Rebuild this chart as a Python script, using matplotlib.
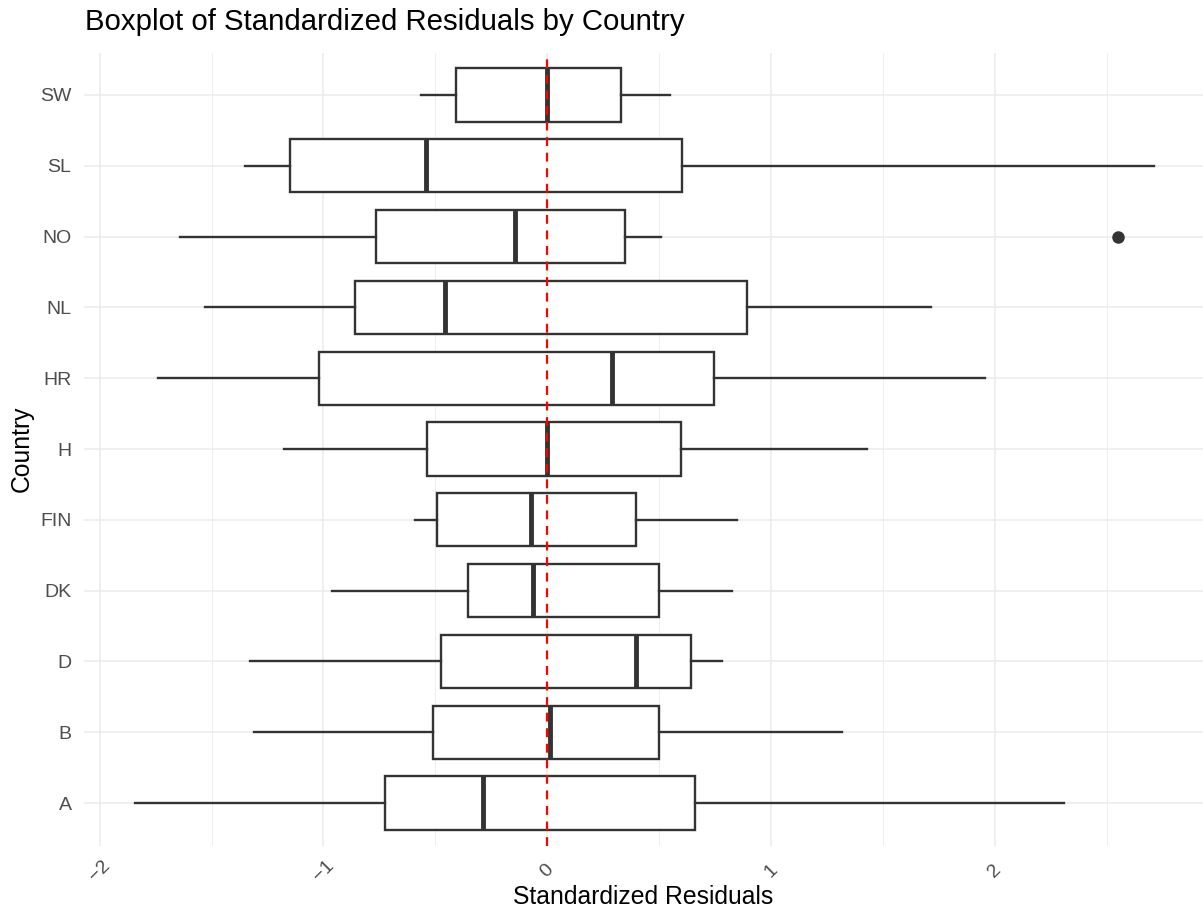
import numpy as np
import matplotlib
matplotlib.use("Agg")
import matplotlib.pyplot as plt

plt.rcParams['font.family'] = ['Liberation Sans', 'DejaVu Sans']

# значения (снизу вверх)
countries = ["A", "B", "D", "DK", "FIN", "H", "HR", "NL", "NO", "SL", "SW"]
whislo = [-1.84, -1.31, -1.33, -0.96, -0.59, -1.175, -1.74, -1.53, -1.64, -1.35, -0.563]
q1 = [-0.727, -0.512, -0.477, -0.352, -0.493, -0.538, -1.02, -0.857, -0.766, -1.149, -0.408]
med = [-0.286, 0.013, 0.396, -0.063, -0.071, -0.001, 0.29, -0.459, -0.143, -0.54, 0.001]
q3 = [0.659, 0.499, 0.641, 0.499, 0.396, 0.597, 0.744, 0.891, 0.347, 0.601, 0.328]
whishi = [2.307, 1.318, 0.782, 0.824, 0.849, 1.43, 1.955, 1.715, 0.509, 2.71, 0.547]
outliers = {"NO": [2.548]}

major_ticks = [-2, -1, 0, 1, 2]
minor_ticks = [-1.5, -0.5, 0.5, 1.5, 2.5]

stats = []
for i, c in enumerate(countries):
    stats.append(dict(label=c, whislo=whislo[i], q1=q1[i], med=med[i],
                      q3=q3[i], whishi=whishi[i], fliers=outliers.get(c, [])))

W, H = 1203, 910
fig = plt.figure(figsize=(W / 100, H / 100), dpi=100)
ax = fig.add_axes([84 / W, 1 - 845.5 / H, (W - 84) / W, (845.5 - 52.5) / H])

# сетка как в theme_minimal
for t in major_ticks:
    ax.axvline(t, color="#EBEBEB", lw=1.1, zorder=0)
for t in minor_ticks:
    ax.axvline(t, color="#EBEBEB", lw=0.6, zorder=0)
pos = np.arange(1, len(countries) + 1)
for p in pos:
    ax.axhline(p, color="#EBEBEB", lw=1.1, zorder=0)

col = "#333333"
ax.bxp(stats, positions=pos, vert=False, widths=0.75, showcaps=False,
       patch_artist=True,
       boxprops=dict(facecolor="white", edgecolor=col, linewidth=1.7),
       whiskerprops=dict(color=col, linewidth=1.7),
       medianprops=dict(color=col, linewidth=3.5),
       flierprops=dict(marker="o", markerfacecolor=col, markeredgecolor=col,
                       markersize=8))

ax.axvline(0, color="red", lw=1.6, linestyle=(0, (4, 3)), zorder=5)

ax.set_xlim(-2.07, 2.93)
ax.set_ylim(0.4, len(countries) + 0.6)
ax.set_xticks(major_ticks)
ax.set_xticks(minor_ticks, minor=True)
ax.set_yticks(pos)
ax.set_yticklabels(countries)
ax.tick_params(axis="both", length=0, labelsize=14, labelcolor="#4D4D4D")
ax.tick_params(axis="y", pad=9)
ax.tick_params(axis="x", which="minor", length=0)
ax.tick_params(axis="x", pad=18)
for lbl in ax.get_xticklabels():
    lbl.set_rotation(45)
    lbl.set_ha("center")
    lbl.set_va("center")

for s in ax.spines.values():
    s.set_visible(False)

ax.set_xlabel("Standardized Residuals", fontsize=17.8, color="black")
ax.xaxis.set_label_coords(0.5, -(897 - 845.5) / (845.5 - 52.5))
ax.xaxis.label.set_va("center")
ax.set_ylabel("Country", fontsize=17.8, color="black")
ax.yaxis.set_label_coords(-(84 - 22) / (W - 84), 0.5)
ax.yaxis.label.set_va("center")

fig.text(85 / W, 1 - 22 / H, "Boxplot of Standardized Residuals by Country",
         fontsize=21.2, ha="left", va="center")

fig.savefig("out.png", dpi=100)
